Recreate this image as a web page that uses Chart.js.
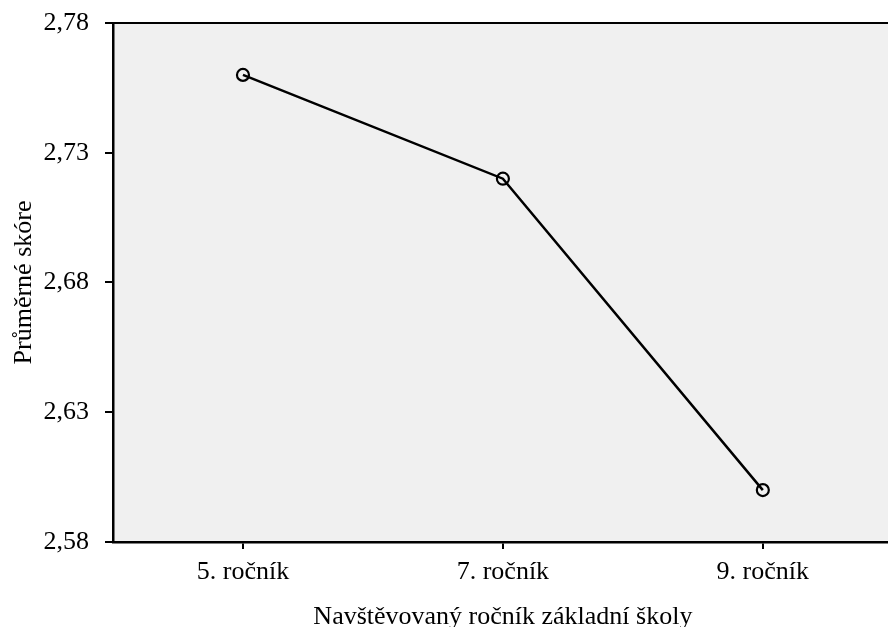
<!DOCTYPE html>
<html>
<head>
<meta charset="utf-8">
<script src="https://cdn.jsdelivr.net/npm/chart.js@4/dist/chart.umd.min.js"></script>
<style>
  html, body { margin: 0; padding: 0; background: #fff; overflow: hidden; }
  #wrap { width: 901px; height: 627px; position: relative; }
</style>
</head>
<body>
<div id="wrap"><canvas id="c" width="901" height="627"></canvas></div>
<script>
const categories = ['5. ročník', '7. ročník', '9. ročník'];
const meanScores = [2.76, 2.72, 2.60];
const yTicks = [2.58, 2.63, 2.68, 2.73, 2.78];
const xTitle = 'Navštěvovaný ročník základní školy';
const yTitle = 'Průměrné skóre';

const FONT = "'Liberation Serif', 'Times New Roman', serif";

const bgPlugin = {
  id: 'bg',
  beforeDraw(chart) {
    const {ctx, chartArea: a} = chart;
    ctx.save();
    ctx.fillStyle = '#F0F0F0';
    ctx.fillRect(a.left, a.top, a.right - a.left, a.bottom - a.top);
    ctx.restore();
  },
  afterDraw(chart) {
    const {ctx, chartArea: a} = chart;
    ctx.save();
    ctx.strokeStyle = '#000';
    ctx.lineWidth = 2;
    ctx.beginPath();
    ctx.moveTo(a.left - 8, a.top);
    ctx.lineTo(a.right, a.top);
    ctx.stroke();
    ctx.restore();
  }
};

new Chart(document.getElementById('c'), {
  type: 'line',
  data: {
    labels: categories,
    datasets: [{
      data: meanScores,
      borderColor: '#000',
      borderWidth: 2.5,
      tension: 0,
      pointRadius: 6,
      pointBorderWidth: 2.2,
      pointBorderColor: '#000',
      pointBackgroundColor: 'rgba(0,0,0,0)',
      fill: false
    }]
  },
  options: {
    responsive: false,
    animation: false,
    devicePixelRatio: 1,
    layout: { padding: { top: 23, right: 0, left: 0, bottom: 0 } },
    plugins: { legend: { display: false }, tooltip: { enabled: false } },
    scales: {
      x: {
        type: 'category',
        offset: true,
        afterFit(s) { s.height = 85; s.paddingLeft = 0; s.paddingRight = 0; },
        grid: { drawOnChartArea: false, drawTicks: true, tickLength: 7, color: '#000', lineWidth: 2 },
        border: { display: true, color: '#000', width: 2.5 },
        ticks: { color: '#000', padding: 8, font: { family: FONT, size: 26 }, maxRotation: 0 },
        title: { display: true, text: xTitle, color: '#000', font: { family: FONT, size: 26, lineHeight: 0.9 }, padding: { top: 0, bottom: -2 } }
      },
      y: {
        min: 2.58,
        max: 2.78,
        afterFit(s) { s.width = 113; s.paddingTop = 0; s.paddingBottom = 0; },
        afterBuildTicks(s) { s.ticks = yTicks.map(v => ({ value: v })); },
        grid: { drawOnChartArea: false, drawTicks: true, tickLength: 8, color: '#000', lineWidth: 2 },
        border: { display: true, color: '#000', width: 2.5 },
        ticks: { color: '#000', padding: 16, font: { family: FONT, size: 26 },
          callback: v => Number(v).toFixed(2).replace('.', ',') },
        title: { display: true, text: yTitle, color: '#000', font: { family: FONT, size: 26 }, padding: { top: 9, bottom: 0 } }
      }
    }
  },
  plugins: [bgPlugin]
});
</script>
</body>
</html>
